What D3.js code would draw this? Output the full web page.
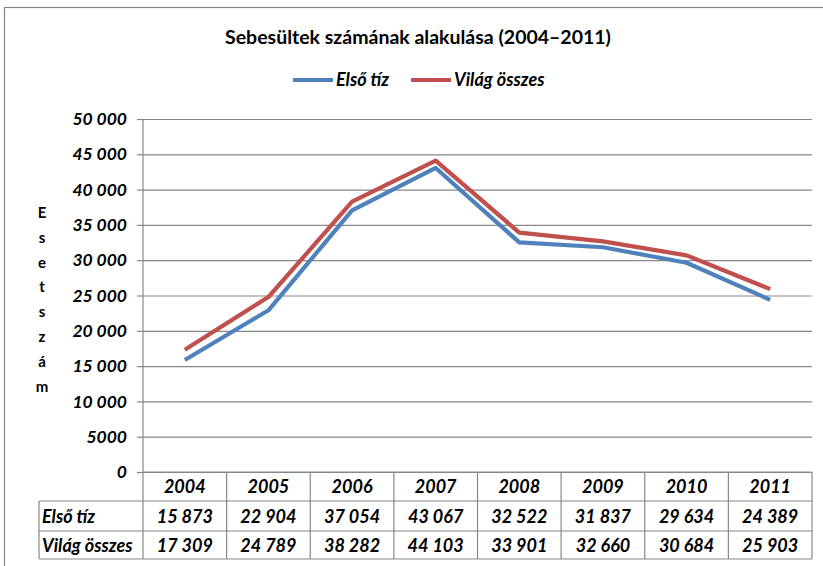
<!DOCTYPE html>
<html>
<head>
<meta charset="utf-8">
<script src="https://cdn.jsdelivr.net/npm/d3@7"></script>
<style>
body { margin: 0; background: #fff; }
svg text { font-family: Lato, "Open Sans", sans-serif; fill: #000; }
</style>
</head>
<body>
<svg id="chart"></svg>
<script>
// chart data
const years = ["2004", "2005", "2006", "2007", "2008", "2009", "2010", "2011"];
const elsoTiz = [15873, 22904, 37054, 43067, 32522, 31837, 29634, 24389];
const vilagOsszes = [17309, 24789, 38282, 44103, 33901, 32660, 30684, 25903];
const seriesNames = ["Első tíz", "Világ összes"];
const seriesColors = ["#4f81bd", "#c0504d"];
const yTicks = [0, 5000, 10000, 15000, 20000, 25000, 30000, 35000, 40000, 45000, 50000];
const titleText = "Sebesültek számának alakulása (2004–2011)";
const yTitle = "Esetszám";

const w = 823;
const h = 566;
const plotLeft = 143, plotRight = 812, plotTop = 119, plotBottom = 472;
const rowH = [29, 30, 28]; // table rows
const gridColor = "#878787";

let svg = d3.select("#chart").attr("width", w).attr("height", h);

// outer frame of the chart (runs past the right/bottom edge)
svg.append("rect")
  .attr("x", 4.5).attr("y", 7.5)
  .attr("width", 840).attr("height", 600)
  .attr("fill", "none").attr("stroke", gridColor).attr("stroke-width", 1.2);

// hungarian number format: space as thousands separator, none for 4 digits
let hu = d3.formatLocale({ decimal: ",", thousands: " ", grouping: [3], currency: ["", ""] });
let fmt = v => (v >= 10000 ? hu.format(",d")(v) : String(v));

let xScale = d3.scaleBand().domain(years).range([plotLeft, plotRight]);
let yScale = d3.scaleLinear().domain([0, 50000]).range([plotBottom, plotTop]);
let bw = xScale.bandwidth();

// title
svg.append("text")
  .attr("x", 418).attr("y", 44)
  .attr("text-anchor", "middle")
  .style("font-size", "19.5px").style("font-weight", "bold")
  .text(titleText);

// legend
let legendX = [293, 411];
let legend = svg.selectAll(".legend")
  .data(seriesNames)
  .enter().append("g")
  .attr("class", "legend")
  .attr("transform", (d, i) => "translate(" + legendX[i] + ",80)");
legend.append("line")
  .attr("x1", 0).attr("x2", 40).attr("y1", 0).attr("y2", 0)
  .attr("stroke", (d, i) => seriesColors[i]).attr("stroke-width", 4);
legend.append("text")
  .attr("x", 43).attr("y", 6)
  .style("font-size", "18px").style("font-weight", "bold").style("font-style", "italic")
  .text(d => d);

// gridlines
svg.append("g")
  .attr("transform", "translate(" + plotLeft + ",0)")
  .call(d3.axisLeft(yScale).tickValues(yTicks).tickSize(-(plotRight - plotLeft)).tickFormat(""))
  .call(g => g.select(".domain").remove())
  .call(g => g.selectAll("line").attr("stroke", gridColor).attr("stroke-width", 1.2));

// y axis with ticks and labels
let yAxis = d3.axisLeft(yScale).tickValues(yTicks).tickSize(6).tickPadding(10).tickFormat(fmt);
svg.append("g")
  .attr("transform", "translate(" + plotLeft + ",0)")
  .call(yAxis)
  .call(g => g.select(".domain").remove())
  .call(g => g.selectAll("line").attr("stroke", gridColor).attr("stroke-width", 1.2))
  .call(g => g.selectAll("text")
    .style("font-family", "Lato, sans-serif")
    .style("font-size", "17.5px").style("font-weight", "bold").style("font-style", "italic")
    .attr("fill", "#000"));

// vertical axis line reaching into the table header row
let tableBottom = plotBottom + rowH[0] + rowH[1] + rowH[2];
svg.append("line")
  .attr("x1", plotLeft).attr("x2", plotLeft).attr("y1", plotTop).attr("y2", tableBottom)
  .attr("stroke", gridColor).attr("stroke-width", 1.2);

// y title, one letter per line
svg.selectAll(".ytitle")
  .data(yTitle.split(""))
  .enter().append("text")
  .attr("class", "ytitle")
  .attr("x", 42)
  .attr("y", (d, i) => 218 + i * 24.8)
  .attr("text-anchor", "middle")
  .style("font-size", "15px").style("font-weight", "bold")
  .text(d => d);

// lines
let lineGen = d3.line()
  .x((d, i) => xScale(years[i]) + bw / 2)
  .y(d => yScale(d));
[elsoTiz, vilagOsszes].forEach((vals, k) => {
  svg.append("path")
    .datum(vals)
    .attr("d", lineGen)
    .attr("fill", "none")
    .attr("stroke", seriesColors[k])
    .attr("stroke-width", 4.2)
    .attr("stroke-linejoin", "round");
});

// data table
let rowY = [plotBottom, plotBottom + rowH[0], plotBottom + rowH[0] + rowH[1], tableBottom];
let table = svg.append("g").attr("class", "table");
// horizontal lines
table.append("line").attr("x1", plotLeft).attr("x2", plotRight).attr("y1", plotBottom).attr("y2", plotBottom)
  .attr("stroke", gridColor).attr("stroke-width", 1.2);
[1, 2, 3].forEach(r => {
  table.append("line").attr("x1", 39).attr("x2", plotRight).attr("y1", rowY[r]).attr("y2", rowY[r])
    .attr("stroke", gridColor).attr("stroke-width", 1.2);
});
// vertical lines
table.append("line").attr("x1", 39).attr("x2", 39).attr("y1", rowY[1]).attr("y2", tableBottom)
  .attr("stroke", gridColor).attr("stroke-width", 1.2);
table.selectAll(".vsep")
  .data(years)
  .enter().append("line")
  .attr("class", "vsep")
  .attr("x1", d => xScale(d) + bw).attr("x2", d => xScale(d) + bw)
  .attr("y1", plotBottom).attr("y2", tableBottom)
  .attr("stroke", gridColor).attr("stroke-width", 1.2);

let cellFont = sel => sel.style("font-size", "18px").style("font-weight", "bold").style("font-style", "italic");

// header row: years
table.selectAll(".year")
  .data(years)
  .enter().append("text")
  .attr("class", "year")
  .attr("x", d => xScale(d) + bw / 2)
  .attr("y", (rowY[0] + rowY[1]) / 2 + 6.5)
  .attr("text-anchor", "middle")
  .call(cellFont)
  .text(d => d);

// value rows
[elsoTiz, vilagOsszes].forEach((vals, k) => {
  let cy = (rowY[k + 1] + rowY[k + 2]) / 2 + 6.5;
  table.append("text")
    .attr("x", 42).attr("y", cy)
    .call(cellFont)
    .text(seriesNames[k]);
  table.selectAll(".val" + k)
    .data(vals)
    .enter().append("text")
    .attr("class", "val" + k)
    .attr("x", (d, i) => xScale(years[i]) + bw / 2)
    .attr("y", cy)
    .attr("text-anchor", "middle")
    .call(cellFont)
    .text(d => fmt(d));
});
</script>
</body>
</html>
